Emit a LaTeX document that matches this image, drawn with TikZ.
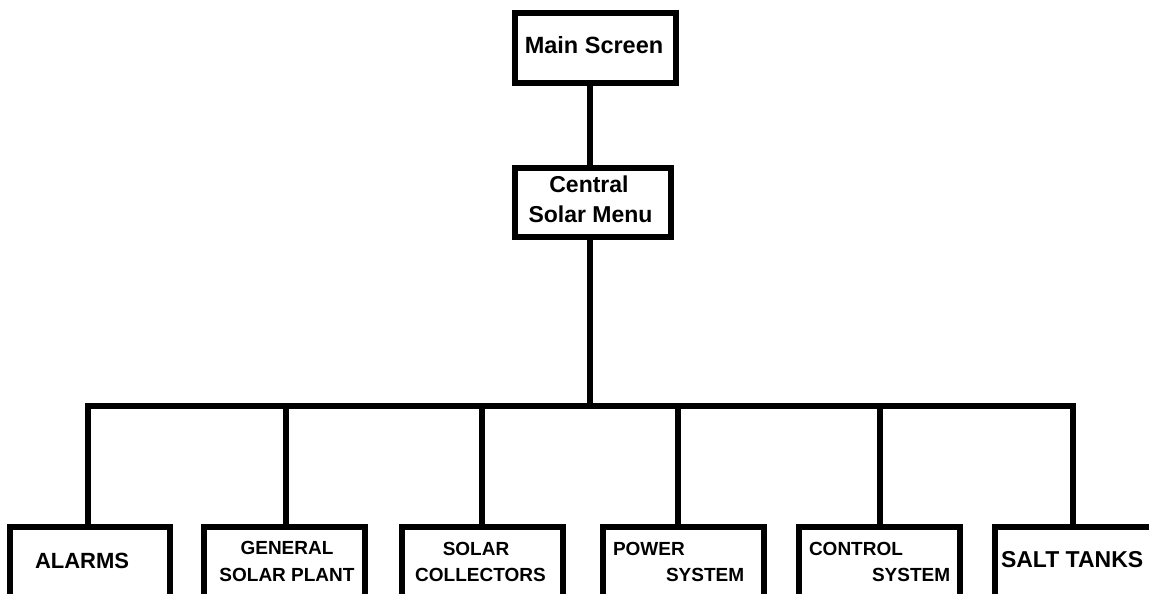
\documentclass[tikz,border=0pt]{standalone}
\usepackage{fontspec}
\setmainfont{Liberation Sans}
\begin{document}
\begin{tikzpicture}[x=1pt,y=1pt,
  box/.style={draw=black,line width=6pt,fill=none,rectangle,inner sep=0pt,outer sep=0pt},
  conn/.style={draw=black,line width=6pt},
  lbl/.style={inner sep=0pt,outer sep=0pt,font=\bfseries\fontsize{19}{19}\selectfont},
  big/.style={inner sep=0pt,outer sep=0pt,font=\bfseries\fontsize{22}{22}\selectfont}]
\useasboundingbox (0,0) rectangle (1149,594);
\clip (0,0) rectangle (1149,594);
\fill[white] (0,0) rectangle (1149,594);
% boxes
\node[box,minimum width=161pt,minimum height=70pt] (main) at (595.5,546) {};
\node[box,minimum width=156pt,minimum height=69pt] (central) at (593,391.5) {};
\node[box,minimum width=160pt,minimum height=97pt] (b1) at (90,18.5) {};
\node[box,minimum width=161pt,minimum height=97pt] (b2) at (284.5,18.5) {};
\node[box,minimum width=161pt,minimum height=97pt] (b3) at (482.5,18.5) {};
\node[box,minimum width=161pt,minimum height=97pt] (b4) at (683.5,18.5) {};
\node[box,minimum width=161pt,minimum height=97pt] (b5) at (879.5,18.5) {};
\node[box,minimum width=165pt,minimum height=97pt] (b6) at (1077.5,18.5) {};
% bus coordinates
\coordinate (cx) at (589.5,188.3);
\coordinate (d1) at (88,188.3);
\coordinate (d2) at (286,188.3);
\coordinate (d3) at (482,188.3);
\coordinate (d4) at (677.5,188.3);
\coordinate (d5) at (879.5,188.3);
\coordinate (d6) at (1072.5,188.3);
% connectors
\draw[conn] (cx |- main.south) -- (cx |- central.north);
\draw[conn] (cx |- central.south) -- (cx);
\draw[conn,line cap=rect] (d1) -- (d6);
\foreach \i in {1,...,6}{\draw[conn] (d\i) -- (d\i |- b\i.north);}
% texts
\node[big,anchor=base,font=\bfseries\fontsize{23.5}{23.5}\selectfont] (tmain) at (594,540) {Main Screen};
\node[big,anchor=base,font=\bfseries\fontsize{23}{23}\selectfont] (tc1) at (589,401) {Central};
\node[big,anchor=base,font=\bfseries\fontsize{23}{23}\selectfont] (tc2) at (590.5,371) {Solar Menu};
\node[big,anchor=base west] (t1) at (35,25) {ALARMS};
\node[lbl,anchor=base] (t2a) at (287,39) {GENERAL};
\node[lbl,anchor=base] (t2b) at (287,12) {SOLAR PLANT};
\node[lbl,anchor=base] (t3a) at (476,38) {SOLAR};
\node[lbl,anchor=base] (t3b) at (480.5,12) {COLLECTORS};
\node[lbl,anchor=base west] (t4a) at (613,38) {POWER};
\node[lbl,anchor=base west] (t4b) at (666,12) {SYSTEM};
\node[lbl,anchor=base west] (t5a) at (809,38) {CONTROL};
\node[lbl,anchor=base west] (t5b) at (872,12) {SYSTEM};
\node[big,anchor=base west,font=\bfseries\fontsize{23}{23}\selectfont] (t6) at (1001,26) {SALT TANKS};
\end{tikzpicture}
\end{document}
